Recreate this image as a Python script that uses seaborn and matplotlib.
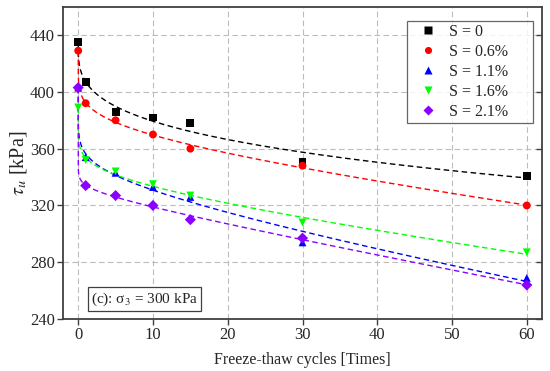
import numpy as np
import pandas as pd
import matplotlib
matplotlib.use("Agg")
import matplotlib.pyplot as plt
import seaborn as sns

cycles = [0, 1, 5, 10, 15, 30, 60]
s_0 = [435, 407, 386, 382, 378, 351, 341]
s_06 = [429, 392, 380, 370, 360, 348, 320]
s_11 = [403, 354, 343, 333, 326, 294, 269]
s_16 = [389, 352, 344, 335, 327, 308, 287]
s_21 = [403, 334, 327, 320, 310, 297, 264]

labels = ["S = 0", "S = 0.6%", "S = 1.1%", "S = 1.6%", "S = 2.1%"]
colors = ["#000000", "#ff0000", "#0000ff", "#00ff00", "#8b00ff"]
markers = ["s", "o", "^", "v", "D"]

series = [s_0, s_06, s_11, s_16, s_21]
df = pd.concat([pd.DataFrame({"N": cycles, "tau": v, "S": lab})
                for v, lab in zip(series, labels)], ignore_index=True)


def fit_curve(x, y):
    # y = a - b*x^c - d*x, c by grid search, the rest by least squares
    x = np.asarray(x, float)
    y = np.asarray(y, float)
    best = None
    for c in np.linspace(0.03, 0.8, 78):
        A = np.column_stack([np.ones_like(x), -x ** c, -x])
        coef, *_ = np.linalg.lstsq(A, y, rcond=None)
        err = np.sum((A @ coef - y) ** 2)
        if best is None or err < best[0]:
            best = (err, coef, c)
    return best[1], best[2]


xx = np.concatenate([np.linspace(0, 1, 300) ** 4, np.linspace(1, 60, 300)[1:]])
fits = []
for v, lab in zip(series, labels):
    (a, b, d), c = fit_curve(cycles, v)
    fits.append(pd.DataFrame({"N": xx, "tau": a - b * xx ** c - d * xx, "S": lab}))
fit_df = pd.concat(fits, ignore_index=True)

sns.set_theme(style="ticks")
plt.rcParams["font.family"] = ["Liberation Serif", "DejaVu Serif"]
plt.rcParams["mathtext.fontset"] = "stix"

fig, ax = plt.subplots(figsize=(5.5, 3.71), dpi=100)
pal = dict(zip(labels, colors))

sns.lineplot(data=fit_df, x="N", y="tau", hue="S", palette=pal, ax=ax,
             legend=False, linewidth=1.0, linestyle=(0, (4, 2.5)))
sns.scatterplot(data=df, x="N", y="tau", hue="S", style="S", palette=pal,
                markers=dict(zip(labels, markers)), s=32, edgecolor="none",
                ax=ax, zorder=3)

ax.set_xlim(-2, 62)
ax.set_ylim(240, 460)
ax.set_xticks([0, 10, 20, 30, 40, 50, 60])
ax.set_yticks([240, 280, 320, 360, 400, 440])
ax.grid(True, linestyle=(0, (5, 3)), color="#bcbcbc", linewidth=0.8)
ax.set_axisbelow(True)

for sp in ax.spines.values():
    sp.set_visible(True)
    sp.set_color("#404040")
    sp.set_linewidth(1.3)

ax.tick_params(axis="both", labelsize=12, direction="out", length=4,
               color="#404040", width=1.0, pad=2)
ax.tick_params(axis="y", right=True, labelright=False)
for t in ax.yaxis.get_major_ticks():
    t.tick2line.set_marker(matplotlib.lines.TICKLEFT)

ax.set_xlabel("Freeze-thaw cycles [Times]", fontsize=11.5, labelpad=6)
ax.set_ylabel(r"$\tau_u$ [kPa]", fontsize=14.5, labelpad=1)

leg = ax.legend(loc="upper left", bbox_to_anchor=(0.718, 0.955, 0.263, 0.0),
                mode="expand", fontsize=11.5, frameon=True, fancybox=False,
                edgecolor="#404040", handletextpad=0.25, handlelength=2.2,
                borderpad=0.2, labelspacing=0.25, borderaxespad=0,
                markerscale=0.9)
leg.get_frame().set_linewidth(0.9)
leg.set_title(None)

ax.text(0.058, 0.037, r"(c): σ$_3$ = 300 kPa", transform=ax.transAxes,
        fontsize=11, ha="left", va="bottom",
        bbox=dict(boxstyle="square,pad=0.22", fc="white", ec="#404040", lw=0.9))

fig.subplots_adjust(left=0.115, right=0.985, top=0.982, bottom=0.14)
fig.savefig("out.png", dpi=100)
